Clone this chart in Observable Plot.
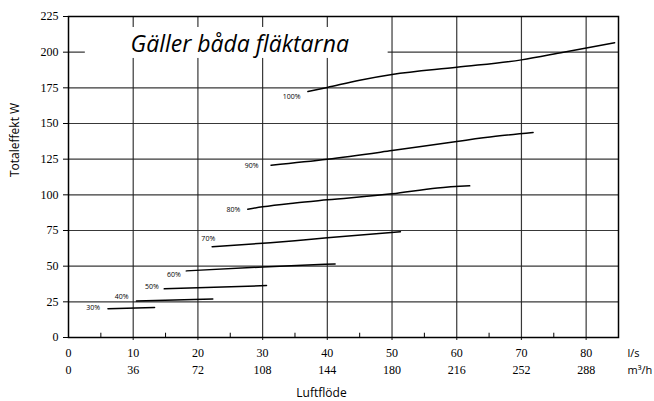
<!DOCTYPE html>
<html>
<head>
<meta charset="utf-8">
<script src="https://cdn.jsdelivr.net/npm/d3@7"></script>
<script src="https://cdn.jsdelivr.net/npm/@observablehq/plot@0.6"></script>
<style>
  html, body { margin: 0; padding: 0; background: #fff; }
</style>
</head>
<body>
<div id="chart"></div>
<script>
// ---- data ----
const speeds = ["30%", "40%", "50%", "60%", "70%", "80%", "90%", "100%"];
const flow30 = [6.1, 13.3];
const power30 = [20.1, 21.0];
const flow40 = [10.5, 22.3];
const power40 = [25.5, 26.9];
const flow50 = [14.8, 30.6];
const power50 = [34.1, 36.4];
const flow60 = [18.2, 30, 41.2];
const power60 = [46.7, 49.4, 51.6];
const flow70 = [22.2, 30, 35, 40, 51.3];
const power70 = [63.6, 66.1, 67.8, 69.9, 74.1];
const flow80 = [27.7, 30, 35, 40, 50, 57, 62];
const power80 = [89.9, 91.6, 94.3, 96.5, 100.7, 104.8, 106.3];
const flow90 = [31.3, 40, 50, 60, 66, 71.8];
const power90 = [120.8, 125, 131, 137.4, 141, 143.7];
const flow100 = [37, 40, 45, 50, 60, 70, 76.5, 84.4];
const power100 = [172.4, 175.3, 180.3, 184.3, 189.4, 194.6, 200, 206.6];
// label anchor points (data units)
const labelFlow = [3.8, 8.2, 12.9, 16.3, 21.6, 25.5, 28.3, 34.5];
const labelPower = [21.0, 28.7, 35.7, 44.2, 69.4, 89.7, 120.6, 168.4];
const xTicks = [0, 10, 20, 30, 40, 50, 60, 70, 80];
const xMinor = [5, 15, 25, 35, 45, 55, 65, 75, 85];
const yTicks = [0, 25, 50, 75, 100, 125, 150, 175, 200, 225];
const title = "Gäller båda fläktarna";

const flows = [flow30, flow40, flow50, flow60, flow70, flow80, flow90, flow100];
const powers = [power30, power40, power50, power60, power70, power80, power90, power100];
const rows = [];
speeds.forEach((s, i) => flows[i].forEach((f, j) => rows.push({speed: s, flow: f, power: powers[i][j]})));
const labels = speeds.map((s, i) => ({speed: s, flow: labelFlow[i], power: labelPower[i]}));

const serif = "'Liberation Serif', 'Times New Roman', serif";
const sans = "'Open Sans', 'Noto Sans', sans-serif";

const chart = Plot.plot({
  width: 654,
  height: 401,
  marginLeft: 68,
  marginRight: 36,
  marginTop: 16,
  marginBottom: 64,
  style: {fontFamily: sans, color: "#000", background: "#fff"},
  x: {domain: [0, 85], axis: null},
  y: {domain: [0, 225], axis: null},
  marks: [
    Plot.gridX(xTicks.slice(1), {stroke: "#222", strokeOpacity: 0.9, strokeWidth: 1.2, insetBottom: -3}),
    Plot.gridY(yTicks.slice(1, -1), {stroke: "#222", strokeOpacity: 0.9, strokeWidth: 1.2}),
    Plot.rect([title], {x1: 2.6, x2: 49.4, y1: 195.6, y2: 217.3, fill: "#fff"}),
    Plot.text([title], {frameAnchor: "top-left", dx: 62, dy: 28, textAnchor: "start", lineAnchor: "middle",
      fontSize: 23, fontStyle: "italic", fontWeight: 400, fontFamily: sans, fill: "#000"}),
    Plot.ruleX(xMinor, {y1: 0, y2: 3, stroke: "#000"}),
    Plot.frame({stroke: "#000", strokeWidth: 1.5}),
    Plot.line(rows, {x: "flow", y: "power", z: "speed", stroke: "#000", strokeWidth: 1.5, curve: "monotone-x"}),
    Plot.text(labels, {x: "flow", y: "power", text: "speed", fontSize: 7, fill: "#000", fontFamily: sans}),
    Plot.axisY(yTicks, {tickSize: 5, tickPadding: 5, fontSize: 12, fontFamily: serif, label: null}),
    Plot.text(xTicks, {x: d => d, text: d => String(d), frameAnchor: "bottom", dy: 16, lineAnchor: "middle", fontSize: 12, fontFamily: serif, fill: "#000"}),
    Plot.text(xTicks, {x: d => d, text: d => String(Math.round(d * 3.6)), frameAnchor: "bottom", dy: 33, lineAnchor: "middle", fontSize: 12, fontFamily: serif, fill: "#000"}),
    Plot.text(["l/s"], {frameAnchor: "bottom-right", dx: 9, dy: 16, textAnchor: "start", lineAnchor: "middle", fontSize: 11, fill: "#000"}),
    Plot.text(["m³/h"], {frameAnchor: "bottom-right", dx: 9, dy: 33, textAnchor: "start", lineAnchor: "middle", fontSize: 11, fill: "#000"}),
    Plot.text(["Luftflöde"], {frameAnchor: "bottom", dx: -22, dy: 56, lineAnchor: "middle", fontSize: 12, fill: "#000"}),
    Plot.text(["Totaleffekt W"], {frameAnchor: "left", dx: -53, rotate: -90, lineAnchor: "middle", fontSize: 12, fill: "#000"})
  ]
});
document.getElementById("chart").appendChild(chart);
</script>
</body>
</html>
